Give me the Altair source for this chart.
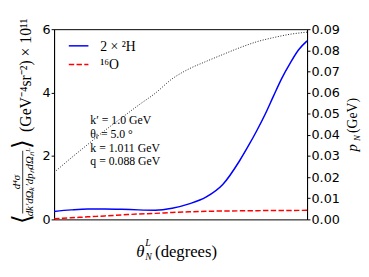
import altair as alt
import pandas as pd

# ---- data ----
series_names = ["2 × ²H", "¹⁶O"]

theta_deut = [5, 10, 15, 20, 25, 30, 35, 40, 45, 50, 55, 60, 62.5, 65, 67.5, 70, 72.5, 75, 77.5, 80]
sigma_deut = [0.25, 0.30, 0.33, 0.33, 0.32, 0.30, 0.29, 0.35, 0.49, 0.70, 1.10, 1.85, 2.30, 2.78, 3.30, 3.88, 4.45, 4.93, 5.35, 5.63]

theta_oxy = [5, 10, 15, 20, 25, 30, 35, 40, 45, 50, 60, 70, 80]
sigma_oxy = [0.02, 0.05, 0.08, 0.11, 0.14, 0.17, 0.19, 0.22, 0.24, 0.255, 0.27, 0.28, 0.285]

theta_pn = [5, 10, 15, 20, 25, 30, 35, 40, 45, 50, 55, 60, 65, 70, 75, 80]
p_n = [0.0222, 0.029, 0.0355, 0.042, 0.048, 0.054, 0.0597, 0.0665, 0.0712, 0.0747, 0.078, 0.0812, 0.084, 0.086, 0.0876, 0.0886]

x_ticks = [10, 20, 30, 40, 50, 60, 70, 80]
yl_ticks = [0, 1, 2, 3, 4, 5, 6]
yr_ticks = [0.0, 0.01, 0.02, 0.03, 0.04, 0.05, 0.06, 0.07, 0.08, 0.09]

annotations = ["k′ = 1.0 GeV", "θₗ = 5.0 °", "k = 1.011 GeV", "q = 0.088 GeV"]

W, H = 258, 194
SERIF = "Liberation Serif"
SANS = "DejaVu Sans"
BLUE, RED = "#0000ff", "#ff0000"
DASH = [5.5, 2.4]

df_deut = pd.DataFrame({"theta": theta_deut, "value": sigma_deut})
df_oxy = pd.DataFrame({"theta": theta_oxy, "value": sigma_oxy})
df_pn = pd.DataFrame({"theta": theta_pn, "p": p_n})

xscale = alt.Scale(domain=[5, 80], nice=False, zero=False)
ylscale = alt.Scale(domain=[0, 6], nice=False, zero=False)
yrscale = alt.Scale(domain=[0, 0.09], nice=False, zero=False)

axis_style = dict(title=None, grid=False, labelFont=SANS, labelFontSize=13, labelColor="black",
                  tickColor="black", tickSize=3, domainColor="black", labelOverlap=False)

blue_line = alt.Chart(df_deut).mark_line(color=BLUE, strokeWidth=1.5, interpolate="monotone").encode(
    x=alt.X("theta:Q", scale=xscale,
            axis=alt.Axis(values=x_ticks, format="d", labelPadding=2, labelFlush=False, **axis_style)),
    y=alt.Y("value:Q", scale=ylscale, axis=alt.Axis(values=yl_ticks, format="d", labelPadding=1, **axis_style)),
)
red_line = alt.Chart(df_oxy).mark_line(color=RED, strokeWidth=1.5, strokeDash=DASH,
                                       interpolate="monotone").encode(
    x=alt.X("theta:Q", scale=xscale),
    y=alt.Y("value:Q", scale=ylscale),
)

def label(txt, x, y, size, style="normal", angle=0, align="center", baseline="middle", font=SERIF):
    return alt.Chart(pd.DataFrame({"s": [txt]})).mark_text(
        font=font, fontSize=size, fontStyle=style, angle=angle, align=align,
        baseline=baseline, color="black").encode(x=alt.value(x), y=alt.value(y), text="s:N")

def seg(x1, x2, y1, y2, color, width, dash=None):
    kw = dict(color=color, strokeWidth=width)
    if dash:
        kw["strokeDash"] = dash
    return alt.Chart(pd.DataFrame({"a": [0]})).mark_rule(**kw).encode(
        x=alt.value(x1), x2=alt.value(x2), y=alt.value(y1), y2=alt.value(y2))

legend = [
    seg(15, 35, 17, 17, BLUE, 1.5),
    label(series_names[0], 47, 18, 14, align="left"),
    seg(15, 35, 36, 36, RED, 1.5, DASH),
    label(series_names[1], 47, 37, 14, align="left"),
]

ann = [label(s, 37, 93 + 14 * i, 12, align="left") for i, s in enumerate(annotations)]

left_title = [
    label("⟨", -33, 194, 26, angle=270),
    label("d⁴σ", -38, 156, 11, style="italic", angle=270),
    seg(-32, -32, 124, 188, "black", 0.8),
    label("dk′dΩₖ′dpₙdΩₙᴸ", -25, 156, 11, style="italic", angle=270),
    label("⟩", -33, 117, 26, angle=270),
    label("(GeV⁻⁴sr⁻²) × 10¹¹", -29, 47, 16, angle=270),
]

x_title = [
    label("θ", 88, 232, 17, style="italic", baseline="alphabetic"),
    label("L", 93, 221, 10, style="italic", align="left", baseline="alphabetic"),
    label("N", 93, 235, 10, style="italic", align="left", baseline="alphabetic"),
    label("(degrees)", 103, 232, 17, align="left", baseline="alphabetic"),
]

right_title = [
    label("p", 309, 121, 15, style="italic", angle=270, baseline="alphabetic"),
    label("N", 312, 111, 9, style="italic", angle=270, baseline="alphabetic"),
    label("(GeV)", 309, 88, 14, angle=270, baseline="alphabetic"),
]

left_group = alt.layer(blue_line, red_line, *legend, *ann, *left_title, *x_title, *right_title)

dotted = alt.Chart(df_pn).mark_line(color="#222222", strokeWidth=1, strokeDash=[1, 1.65],
                                    interpolate="monotone").encode(
    x=alt.X("theta:Q", scale=xscale, axis=None),
    y=alt.Y("p:Q", scale=yrscale,
            axis=alt.Axis(values=yr_ticks, format=".2f", orient="right", labelPadding=1, **axis_style)),
)

chart = alt.layer(left_group, dotted).resolve_scale(y="independent").properties(
    width=W, height=H,
    autosize=alt.AutoSizeParams(type="none"),
    padding={"left": 47, "top": 19, "right": 55, "bottom": 48},
).configure_view(stroke="black", strokeWidth=1)

chart.save("out.html", embed_options={"renderer": "svg", "actions": False})
